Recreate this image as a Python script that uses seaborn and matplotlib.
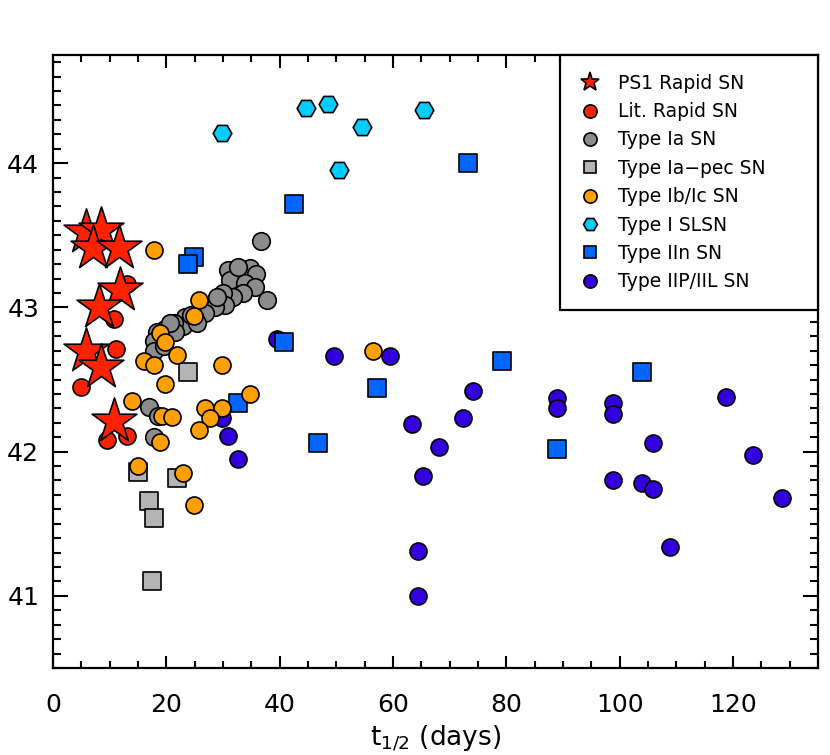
import numpy as np
import pandas as pd
import matplotlib
matplotlib.use('Agg')
import matplotlib.pyplot as plt
from matplotlib.lines import Line2D
from matplotlib.ticker import MultipleLocator
import seaborn as sns

# PS1 rapid SNe (stars)
ps1_t = [5.8, 8.4, 7.0, 11.6, 11.9, 8.1, 5.8, 8.4, 10.7]
ps1_L = [43.52, 43.54, 43.41, 43.41, 43.12, 43.00, 42.70, 42.59, 42.21]

# literature rapid SNe
lit_t = [5.0, 11.1, 13.0, 9.6, 13.1, 10.8]
lit_L = [42.45, 42.71, 42.11, 42.08, 43.16, 42.92]

# Type Ia
ia_t = [36.7, 30.9, 33.0, 34.7, 35.9, 31.2, 33.9, 35.6, 37.7, 33.6, 31.8, 30.0,
        30.4, 28.6, 28.9, 26.8, 25.1, 23.3, 23.0, 21.3, 19.8, 21.6, 18.4, 20.7,
        25.4, 17.8, 17.8, 19.5, 16.9, 18.6, 17.8, 32.6, 24.3]
ia_L = [43.46, 43.26, 43.23, 43.27, 43.23, 43.19, 43.17, 43.14, 43.05, 43.10, 43.07, 43.10,
        43.02, 43.00, 43.07, 42.96, 42.92, 42.93, 42.87, 42.89, 42.85, 42.83, 42.83, 42.89,
        42.89, 42.77, 42.70, 42.73, 42.31, 42.25, 42.10, 43.28, 42.95]

# Type Ia-pec
iapec_t = [23.9, 15.0, 21.9, 16.9, 17.8, 17.4]
iapec_L = [42.55, 41.86, 41.82, 41.66, 41.54, 41.10]

# Type Ib/Ic
ibc_t = [17.9, 25.8, 24.8, 18.9, 19.8, 21.9, 16.0, 17.8, 29.8, 19.8, 14.0, 34.7,
         19.2, 21.0, 26.8, 29.8, 27.7, 25.8, 18.9, 15.0, 22.9, 24.8, 56.4]
ibc_L = [43.40, 43.05, 42.94, 42.82, 42.76, 42.67, 42.63, 42.60, 42.60, 42.47, 42.35, 42.40,
         42.25, 42.24, 42.30, 42.30, 42.23, 42.15, 42.07, 41.90, 41.85, 41.63, 42.70]

# Type I SLSN
slsn_t = [29.8, 44.6, 48.5, 54.5, 50.5, 65.4]
slsn_L = [44.21, 44.38, 44.41, 44.25, 43.95, 44.37]

# Type IIn
iin_t = [73.2, 42.6, 24.8, 23.9, 40.7, 46.7, 57.2, 79.3, 88.9, 104.0, 32.7]
iin_L = [44.00, 43.72, 43.35, 43.30, 42.76, 42.06, 42.44, 42.63, 42.02, 42.55, 42.34]

# Type IIP/IIL
iip_t = [59.4, 49.5, 74.2, 72.3, 63.3, 68.2, 65.3, 64.4, 64.4, 89.0, 89.0, 98.9,
         98.9, 98.9, 103.9, 105.8, 105.8, 108.8, 118.7, 123.6, 128.6, 39.5, 29.8, 30.9, 32.6]
iip_L = [42.66, 42.66, 42.42, 42.23, 42.19, 42.03, 41.83, 41.31, 41.00, 42.37, 42.30, 42.34,
         42.26, 41.80, 41.78, 41.74, 42.06, 41.34, 42.38, 41.98, 41.68, 42.78, 42.23, 42.11, 41.95]

# label, data, marker, color, size (drawing order)
groups = [
    ('Type IIP/IIL SN', iip_t, iip_L, 'o', '#3300dd', 150),
    ('Type IIn SN', iin_t, iin_L, 's', '#0066ff', 150),
    ('Type Ia SN', ia_t, ia_L, 'o', '#8c8c8c', 160),
    ('Type Ia-pec SN', iapec_t, iapec_L, 's', '#b4b4b4', 150),
    ('Type I SLSN', slsn_t, slsn_L, 'H', '#00ccff', 180),
    ('Type Ib/Ic SN', ibc_t, ibc_L, 'o', '#ffa000', 150),
    ('Lit. Rapid SN', lit_t, lit_L, 'o', '#ff2200', 150),
    ('PS1 Rapid SN', ps1_t, ps1_L, '*', '#ff2200', 1150),
]

sns.set_style('ticks')
plt.rcParams['font.family'] = ['DejaVu Sans']
plt.rcParams['text.color'] = 'black'
plt.rcParams['axes.labelcolor'] = 'black'

fig = plt.figure(figsize=(8.3, 7.55), dpi=100)
ax = fig.add_axes([0.0639, 0.1152, 0.9216, 0.812])

for label, t, L, mk, col, s in groups:
    df = pd.DataFrame({'t': t, 'L': L})
    sns.scatterplot(data=df, x='t', y='L', marker=mk, color=col, s=s,
                    edgecolor='black', linewidth=1.2, ax=ax, legend=False, zorder=3)

ax.set_xlim(0, 135)
ax.set_ylim(40.5, 44.75)
ax.xaxis.set_major_locator(MultipleLocator(20))
ax.xaxis.set_minor_locator(MultipleLocator(5))
ax.yaxis.set_major_locator(MultipleLocator(1))
ax.yaxis.set_minor_locator(MultipleLocator(0.1))
ax.tick_params(which='both', direction='in', top=True, right=True, width=1.5,
               colors='black', labelsize=18)
ax.tick_params(axis='x', which='major', length=9, pad=18)
ax.tick_params(axis='x', which='minor', length=5)
ax.tick_params(axis='y', which='major', length=11, pad=10)
ax.tick_params(axis='y', which='minor', length=5.5)
for sp in ax.spines.values():
    sp.set_linewidth(1.6)
    sp.set_color('black')

ax.set_xlabel('t$_{1/2}$ (days)', fontsize=19, labelpad=4)
ax.set_ylabel('')

legend_order = ['PS1 Rapid SN', 'Lit. Rapid SN', 'Type Ia SN', 'Type Ia\u2212pec SN',
                'Type Ib/Ic SN', 'Type I SLSN', 'Type IIn SN', 'Type IIP/IIL SN']
legend_style = [('*', '#ff2200', 14), ('o', '#ff2200', 9.5), ('o', '#8c8c8c', 9.5),
                ('s', '#b4b4b4', 9), ('o', '#ffa000', 9.5), ('H', '#00ccff', 10),
                ('s', '#0066ff', 9), ('o', '#3300dd', 9.5)]
handles = [Line2D([], [], linestyle='none', marker=m, markerfacecolor=c,
                  markeredgecolor='black', markeredgewidth=1.2, markersize=ms)
           for m, c, ms in legend_style]
leg = ax.legend(handles, legend_order, loc='upper right', mode='expand',
                bbox_to_anchor=(0.663, 0.5, 0.337, 0.5), borderaxespad=0,
                fontsize=13.5, frameon=True, fancybox=False, framealpha=1,
                labelspacing=0.5, handletextpad=0.9, borderpad=1.0, handlelength=1.2)
leg.get_frame().set_edgecolor('black')
leg.get_frame().set_linewidth(1.6)

fig.savefig('out.png', dpi=100)
